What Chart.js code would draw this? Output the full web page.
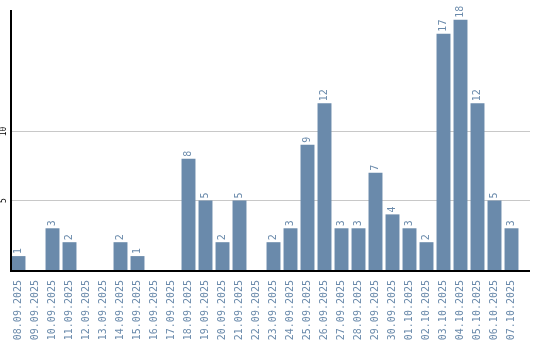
<!DOCTYPE html>
<html lang="en">
<head>
    <meta charset="UTF-8">
    <title>Daily counts</title>
    <script src="https://cdn.jsdelivr.net/npm/chart.js"></script>
    <style>
        body { margin: 0; background: #fff; }
        canvas { display: block; }
    </style>
</head>
<body>
    <canvas id="myChart" width="540" height="340"></canvas>
    <script>
        const days = [
            '08.09.2025', '09.09.2025', '10.09.2025', '11.09.2025', '12.09.2025',
            '13.09.2025', '14.09.2025', '15.09.2025', '16.09.2025', '17.09.2025',
            '18.09.2025', '19.09.2025', '20.09.2025', '21.09.2025', '22.09.2025',
            '23.09.2025', '24.09.2025', '25.09.2025', '26.09.2025', '27.09.2025',
            '28.09.2025', '29.09.2025', '30.09.2025', '01.10.2025', '02.10.2025',
            '03.10.2025', '04.10.2025', '05.10.2025', '06.10.2025', '07.10.2025'
        ];
        const counts = [1, 0, 3, 2, 0, 0, 2, 1, 0, 0, 8, 5, 2, 5, 0, 2, 3, 9, 12, 3, 3, 7, 4, 3, 2, 17, 18, 12, 5, 3];
        const yTicks = [5, 10];

        const barColor = '#6a8aab';
        const mono = '"DejaVu Sans Mono", monospace';

        // grid lines, axis lines and rotated y labels drawn by hand
        const axesPlugin = {
            id: 'axesPlugin',
            beforeDatasetsDraw(chart) {
                const c = chart.ctx;
                const area = chart.chartArea;
                const y = chart.scales.y;
                c.save();
                c.strokeStyle = '#c8c8c8';
                c.lineWidth = 1;
                yTicks.forEach(function(t) {
                    const py = Math.round(y.getPixelForValue(t)) + 0.5;
                    c.beginPath();
                    c.moveTo(area.left, py);
                    c.lineTo(area.right + 10, py);
                    c.stroke();
                    c.save();
                    c.translate(4, py);
                    c.rotate(-Math.PI / 2);
                    c.fillStyle = '#000';
                    c.font = '8px ' + mono;
                    c.textAlign = 'center';
                    c.textBaseline = 'middle';
                    c.fillText(String(t), 0, 0);
                    c.restore();
                });
                c.restore();
            },
            afterDatasetsDraw(chart) {
                const c = chart.ctx;
                const area = chart.chartArea;
                c.save();
                c.strokeStyle = '#000';
                c.lineWidth = 2;
                c.beginPath();
                c.moveTo(area.left + 1, area.top);
                c.lineTo(area.left + 1, area.bottom + 1);
                c.lineTo(area.right + 10, area.bottom + 1);
                c.stroke();

                // value labels above bars
                const meta = chart.getDatasetMeta(0);
                c.fillStyle = barColor;
                c.font = '10px ' + mono;
                c.textAlign = 'left';
                c.textBaseline = 'middle';
                meta.data.forEach(function(bar, i) {
                    if (!counts[i]) return;
                    c.save();
                    c.translate(bar.x, bar.y - 2);
                    c.rotate(-Math.PI / 2);
                    c.fillText(String(counts[i]), 0, 0);
                    c.restore();
                });
                c.restore();
            }
        };

        const ctx = document.getElementById('myChart').getContext('2d');
        const myChart = new Chart(ctx, {
            type: 'bar',
            data: {
                labels: days,
                datasets: [{
                    data: counts,
                    backgroundColor: barColor,
                    borderWidth: 0,
                    categoryPercentage: 1,
                    barPercentage: 0.82
                }]
            },
            options: {
                responsive: false,
                animation: false,
                layout: { padding: { left: 10, right: 20, top: 10, bottom: 0 } },
                scales: {
                    x: {
                        grid: { display: false },
                        border: { display: false },
                        ticks: {
                            color: barColor,
                            font: { family: mono, size: 10 },
                            minRotation: 90,
                            maxRotation: 90,
                            autoSkip: false,
                            padding: 2
                        },
                        afterFit: function(scale) { scale.height = 70; }
                    },
                    y: {
                        display: false,
                        min: 0,
                        max: 18.7
                    }
                },
                plugins: {
                    legend: { display: false },
                    tooltip: { enabled: false }
                }
            },
            plugins: [axesPlugin]
        });
    </script>
</body>
</html>
